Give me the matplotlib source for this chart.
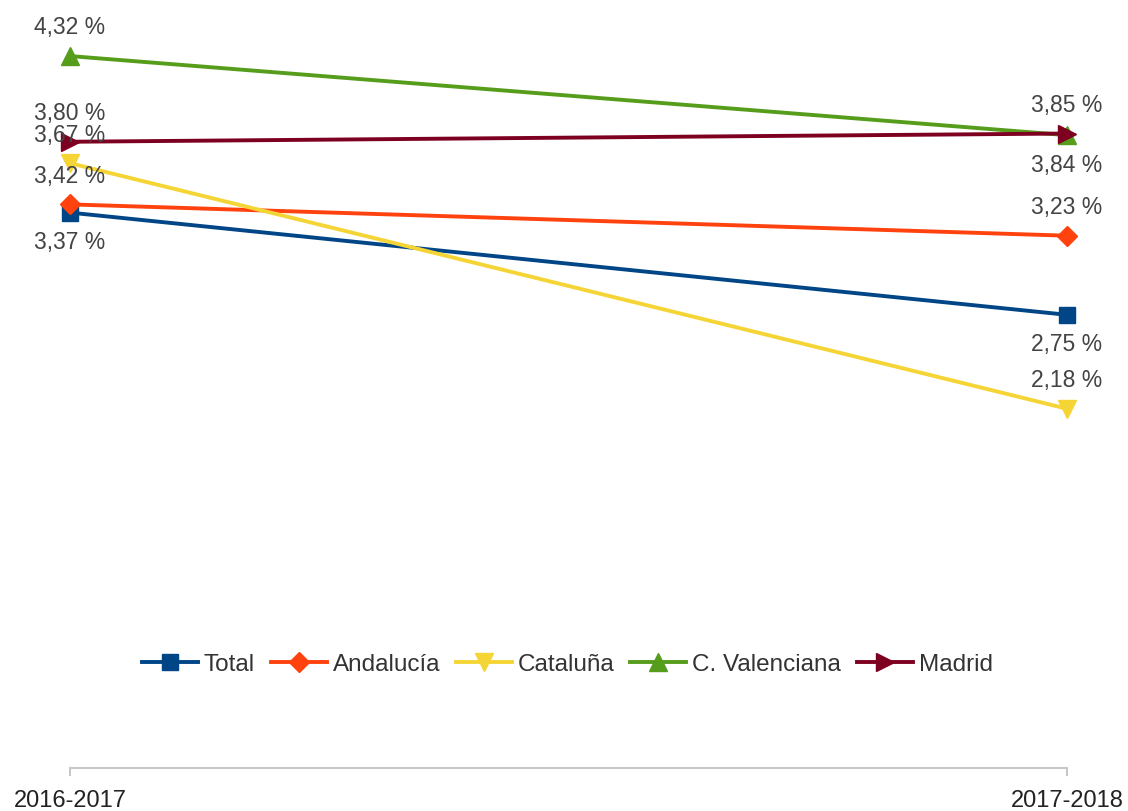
import matplotlib
matplotlib.use("Agg")
import matplotlib.pyplot as plt

plt.rcParams['font.family'] = ['Liberation Sans', 'DejaVu Sans']

periods = ["2016-2017", "2017-2018"]
series_names = ["Total", "Andalucía", "Cataluña", "C. Valenciana", "Madrid"]
total = [3.37, 2.75]
andalucia = [3.42, 3.23]
cataluna = [3.67, 2.18]
valenciana = [4.32, 3.84]
madrid = [3.80, 3.85]
values = [total, andalucia, cataluna, valenciana, madrid]

colors = ["#004586", "#ff420e", "#f5d535", "#579d1c", "#7e0021"]
markers = ["s", "D", "v", "^", ">"]
msizes = [12, 10, 13, 13, 13]
# label placement per series, per point: +1 above, -1 below
placement = [(-1, -1), (1, 1), (1, 1), (1, -1), (1, 1)]

fig = plt.figure(figsize=(11.28, 8.12), dpi=100)
ax = fig.add_axes([70 / 1128, 43 / 812, (1067 - 70) / 1128, 4.5 * 164.8 / 812])

x = list(range(len(periods)))
handles = []
for name, vals, c, m, ms, pl in zip(series_names, values, colors, markers, msizes, placement):
    h, = ax.plot(x, vals, color=c, lw=2.8, marker=m, markersize=ms,
                 markeredgecolor=c, markerfacecolor=c, label=name, clip_on=False)
    handles.append(h)
    for xi, v, p in zip(x, vals, pl):
        ax.annotate(f"{v:.2f} %".replace(".", ","), (xi, v),
                    xytext=(0, 21 * p), textcoords="offset points",
                    ha="center", va="center", fontsize=16.5, color="#444444")

ax.set_xlim(0, 1)
ax.set_ylim(0, 4.5)
ax.set_yticks([])
ax.set_xticks(x)
ax.set_xticklabels(periods, fontsize=17, color="#222222")
ax.tick_params(axis="x", length=6, width=1.2, color="#bbbbbb", pad=9)
for s in ["top", "right", "left"]:
    ax.spines[s].set_visible(False)
ax.spines["bottom"].set_color("#c8c8c8")
ax.spines["bottom"].set_linewidth(1.5)

leg = fig.legend(handles=handles, loc="center", bbox_to_anchor=(0.503, 1 - 665 / 812),
                 ncol=5, frameon=False, fontsize=17.5, handlelength=2.3,
                 handletextpad=0.25, columnspacing=0.65, labelcolor="#333333")

fig.savefig("out.png", dpi=100)
